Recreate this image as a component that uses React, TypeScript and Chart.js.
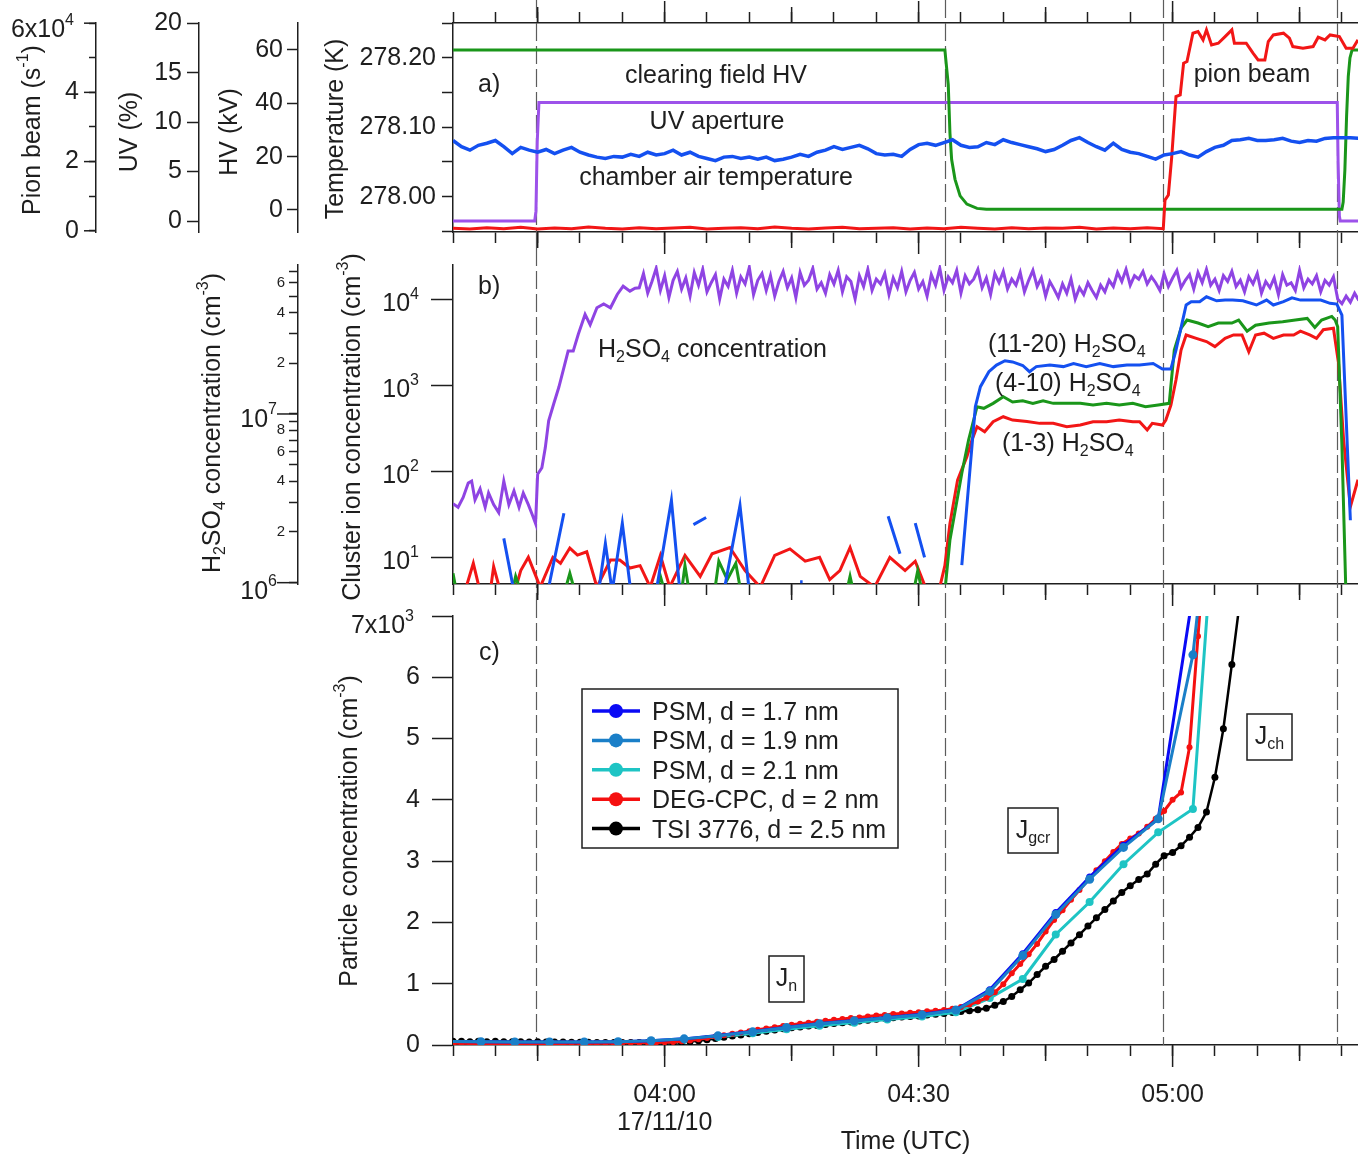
import React, { useEffect, useRef } from 'react';
import { Chart, registerables } from 'chart.js';

Chart.register(...registerables);

const FONT = '"Liberation Sans", Arial, Helvetica, sans-serif';
const INK = '#1e1e1e';
Chart.defaults.font.family = FONT;

// ---------------- shared time axis (minutes relative to 04:00 UTC, 17/11/10) ----------------
const X_MIN = -25;
const X_MAX = 81.9;
const timeTicks = [-25, -20, -15, -10, -5, 0, 5, 10, 15, 20, 25, 30, 35, 40, 45, 50, 55, 60, 65, 70, 75, 80];
const timeTickLabels: Record<number, string[]> = { 0: ['04:00', '17/11/10'], 30: ['04:30'], 60: ['05:00'] };
const eventTimes = [-15.2, 33.1, 58.9, 79.4];

// ---------------- panel a ----------------
const hvTime = [-25, 33.1, 33.5, 33.7, 33.9, 34.3, 34.9, 35.7, 36.9, 38.0, 80.0, 80.15, 80.35, 80.55, 80.75, 80.95, 81.2, 82];
const hvValues = [60, 60, 47, 28.8, 18.9, 11.5, 5.3, 2.2, 0.6, 0.3, 0.3, 3, 15, 35, 50, 57, 60, 60];

const uvTime = [-25, -15.35, -15.2, -15.05, -14.85, 79.45, 79.55, 79.7, 79.8, 82];
const uvValues = [0, 0, 1, 8, 12, 12, 6, 0.5, 0, 0];

const pionTime = [-25, -23, -21, -19, -17, -15, -13, -11, -9, -7, -5, -3, -1, 1, 3, 5, 7, 9, 11, 13, 15, 17, 19, 21, 23, 25, 27, 29, 31, 33, 35, 37, 39, 41, 43, 45, 47, 49, 51, 53, 55, 57, 58.9,
  59.1, 59.5, 59.9, 60.4, 60.9, 61.3, 61.7, 62.4, 63.0, 63.6, 64.0, 64.6, 65.4, 66.2, 67.0, 67.3, 68.7, 69.5, 70.1, 70.9, 71.3, 71.9, 73.1, 73.8, 74.2, 75.4, 76.6, 77.2, 78.0, 78.6, 79.7, 80.5, 81.3, 81.9];
const pionValues = [700, 500, 900, 600, 1000, 500, 800, 600, 1100, 700, 500, 900, 600, 800, 1000, 500, 700, 900, 600, 1100, 700, 500, 800, 1000, 600, 700, 900, 500, 800, 600, 1000, 700, 500, 900, 600, 800, 700, 1000, 500, 800, 600, 900, 600,
  8880, 10330, 21400, 38770, 39260, 48430, 48900, 57100, 57570, 55170, 58060, 53720, 54210, 56130, 58060, 54210, 54210, 51320, 49390, 49390, 54690, 56610, 57100, 55650, 53240, 52760, 53240, 55940, 55170, 56610, 56130, 52760, 52760, 55170];

// chamber air temperature, one value per minute from -25 min
const tempStart = -25;
const tempValues = [278.081, 278.072, 278.067, 278.074, 278.077, 278.081, 278.072, 278.062, 278.071, 278.067,
  278.064, 278.068, 278.062, 278.067, 278.071, 278.064, 278.060, 278.057, 278.055, 278.058,
  278.057, 278.061, 278.058, 278.064, 278.060, 278.062, 278.067, 278.060, 278.064, 278.058,
  278.055, 278.052, 278.057, 278.058, 278.055, 278.057, 278.054, 278.057, 278.052, 278.054,
  278.057, 278.061, 278.058, 278.064, 278.067, 278.072, 278.068, 278.071, 278.074, 278.069,
  278.062, 278.060, 278.061, 278.058, 278.068, 278.075, 278.077, 278.074, 278.078, 278.082,
  278.074, 278.071, 278.072, 278.078, 278.075, 278.082, 278.078, 278.075, 278.072, 278.069,
  278.065, 278.068, 278.074, 278.081, 278.085, 278.078, 278.072, 278.067, 278.077, 278.068,
  278.064, 278.062, 278.058, 278.054, 278.060, 278.062, 278.065, 278.060, 278.057, 278.065,
  278.071, 278.074, 278.081, 278.082, 278.084, 278.081, 278.081, 278.082, 278.084, 278.080,
  278.078, 278.081, 278.080, 278.084, 278.085, 278.085, 278.085, 278.084];

// ---------------- panel b ----------------
const h2so4RiseTime = [-25.0, -24.4, -23.8, -23.2, -22.8, -22.4, -21.8, -21.2, -20.8, -20.2, -19.6, -19.0, -18.4, -17.8, -17.2, -16.7, -16.1, -15.6, -15.25, -15.0,
  -14.5, -14.1, -13.7, -13.1, -12.5, -11.9, -11.4, -10.8, -10.2, -9.4, -8.8, -8.0, -7.2, -6.4, -5.6, -4.9, -4.1, -3.5];
const h2so4RiseE6 = [2.94, 2.8, 3.2, 3.9, 4.0, 3.1, 3.6, 2.8, 3.4, 2.9, 2.6, 4.0, 2.9, 3.5, 2.8, 3.4, 2.9, 2.5, 2.24, 4.4,
  4.8, 6.3, 9.1, 11.5, 14.4, 18.8, 23.6, 23.6, 29.7, 38.9, 33.8, 42.6, 44.9, 42.6, 51.1, 57.2, 53.5, 55.7];
// plateau, every 0.5 min from -3 min, in units of 1e7 cm^-3
const h2so4PlateauStart = -3;
const h2so4PlateauE7 = [5.6, 6.8, 5.2, 6.1, 7.3, 5.4, 6.6, 4.9, 6.2, 7.0,
  5.5, 6.4, 5.0, 6.9, 5.8, 7.2, 5.3, 6.0, 6.7, 4.8,
  6.3, 5.7, 7.1, 5.2, 6.5, 5.9, 7.4, 5.1, 6.2, 6.8,
  5.4, 6.6, 5.0, 6.1, 7.0, 5.6, 6.4, 4.9, 6.9, 5.8,
  6.2, 7.3, 5.5, 6.0, 5.2, 6.7, 5.9, 7.1, 5.3, 6.5,
  6.1, 4.8, 6.6, 5.7, 7.2, 5.4, 6.3, 5.9, 6.8, 5.1,
  6.4, 5.6, 7.0, 5.3, 6.2, 6.9, 5.5, 6.1, 5.0, 6.7,
  5.8, 7.3, 5.4, 6.5, 6.0, 7.1, 5.2, 6.6, 5.9, 6.3,
  7.2, 5.6, 6.4, 5.1, 6.8, 6.0, 7.0, 5.5, 6.3, 5.8,
  6.9, 5.3, 6.2, 7.1, 5.7, 6.4, 5.0, 6.1, 5.5, 4.9,
  5.9, 5.2, 6.3, 4.8, 5.6, 5.1, 6.0, 5.4, 4.9, 5.8,
  5.3, 6.2, 5.7, 6.9, 6.1, 7.2, 5.8, 6.6, 6.3, 7.0,
  5.9, 6.5, 6.0, 5.4, 6.8, 5.7, 6.4, 7.1, 5.6, 6.2,
  6.7, 5.5, 6.9, 6.0, 7.2, 5.8, 6.3, 5.4, 6.6, 6.1,
  7.0, 5.7, 6.2, 5.3, 6.5, 5.9, 6.8, 5.2, 6.1, 5.6,
  6.4, 5.1, 6.7, 5.8, 6.0, 5.4, 7.1, 5.6, 6.3, 5.9,
  6.6, 5.3, 6.2, 5.8, 6.5, 4.8, 4.5, 5.0, 4.6, 5.2,
  4.7];

const clRedTime = [-25, -23.6, -22.6, -21.8, -20.6, -20.2, -19.4, -17.7, -17.0, -16.1, -15.2, -14.7, -13.2, -12.3, -11.2, -10.3, -9.2, -8.0, -6.4, -5.3,
  -4.1, -2.9, -1.7, -0.5, 0.6, 2.4, 4.2, 5.6, 7.7, 9.5, 11.3, 13.0, 14.8, 16.6, 18.3, 19.5, 20.7, 21.9, 23.1, 24.8,
  26.6, 28.4, 29.6, 30.8, 32.5, 33.1, 33.7, 34.6, 35.7, 36.3, 36.9, 37.8, 38.8, 40.0, 41.1, 42.8, 44.3, 45.9, 47.5, 49.1,
  50.6, 52.2, 53.7, 55.3, 56.1, 57.0, 57.6, 58.8, 59.2, 59.8, 60.4, 61.0, 61.6, 62.8, 64.0, 65.0, 66.2, 67.2, 68.2, 69.0,
  69.8, 70.8, 71.9, 73.1, 74.3, 75.1, 76.2, 77.0, 77.8, 79.0, 79.6, 80.2, 81.0, 81.9];
const clRedValues = [4, 4, 8.5, 4, 4, 7.8, 4, 4, 7, 10, 6, 4.5, 10, 8.5, 12.8, 10.6, 11.6, 4.5, 9.3, 9.3,
  7.5, 8, 4.5, 10.5, 4.5, 10.5, 6, 11, 13, 7, 4.5, 10.5, 12.5, 9, 10, 5.5, 7, 13, 6, 4.5,
  10, 7, 9, 4.5, 4.5, 8, 24.8, 79, 148, 231, 330, 289, 377, 431, 394, 380, 361, 361, 330, 345,
  377, 377, 394, 377, 377, 302, 361, 345, 394, 590, 1150, 2570, 3850, 3520, 3230, 2820, 3520, 3850, 3850, 2450,
  3850, 4040, 3520, 3850, 3850, 4260, 3850, 3520, 4430, 4610, 1800, 231, 38.8, 80];

const clGreenTime = [-25, -24.6, -18.0, -17.6, -17.0, -11.8, -11.2, -10.6, -1.0, -0.5, 0.0, 2.0, 2.4, 2.9, 5.9, 6.4, 7.4, 8.4, 9.0, 21.5,
  21.9, 22.3, 29.4, 29.9, 30.4, 33.1, 33.7, 35.1, 35.9, 36.9, 37.7, 38.8, 40.0, 41.1, 42.3, 43.5, 44.7, 45.9, 47.5, 49.1,
  50.6, 52.2, 53.7, 55.3, 56.8, 58.3, 59.6, 60.2, 61.0, 61.7, 63.0, 64.2, 65.4, 67.0, 67.8, 68.8, 69.8, 71.4, 73.0, 74.5,
  75.9, 76.8, 77.6, 78.8, 79.2, 79.5, 80.0, 80.5, 81.9];
const clGreenValues = [6.5, 4, 4, 6, 4, 4, 6.5, 4, 4, 6, 4, 4, 8, 4, 4, 9, 5.5, 8.5, 4, 4,
  6, 4, 4, 7, 4, 4, 15.9, 95, 231, 564, 540, 617, 737, 640, 660, 617, 660, 617, 617, 617,
  590, 617, 590, 617, 564, 590, 617, 2570, 4610, 5740, 5300, 4800, 5300, 5300, 5740, 4260, 5000, 5300, 5500, 5740,
  6000, 4700, 5740, 6330, 5740, 4800, 200, 3, 3];

const clBlueTime = [-19.0, -17.8, -17.7, -13.8, -11.9, -11.8, -7.8, -7.0, -6.2, -5.0, -4.0, -3.9, -1.0, 0.8, 1.8, 1.9, 3.4, 4.9, 5.0, 7.0,
  8.9, 10.0, 10.1, 16.0, 16.3, 16.4, 26.4, 27.8, 27.9, 29.6, 30.7, 30.8, 35.1, 36.7, 37.3, 38.3, 39.2, 40.2, 41.1, 42.3,
  43.1, 43.9, 45.5, 47.1, 48.3, 49.8, 51.4, 53.0, 54.6, 56.1, 57.7, 58.8, 59.8, 60.4, 61.6, 62.2, 63.2, 64.0, 65.2, 66.2,
  67.1, 68.3, 69.9, 71.1, 71.9, 73.1, 74.1, 75.1, 76.3, 77.5, 78.6, 79.4, 80.0, 81.0];
const clBlueValues: (number | null)[] = [16.6, 4, null, 4, 32.5, null, 4, 14.5, 4, 24.8, 4, null, 4, 46, 4, null, 24, 29, null, 4,
  40, 4, null, 5.2, 5.2, null, 30, 11, null, 25, 10, null, 8.1, 564, 964, 1440, 1720, 1930, 1870, 1700,
  1440, 1650, 1720, 1650, 1790, 1650, 1790, 1650, 1720, 1720, 1790, 1550, 1550, 2570, 8590, 9380, 9380, 10700, 9600, 9800,
  9800, 9600, 8590, 9800, 8590, 9380, 10400, 9800, 9800, 9800, 8980, 8800, 6560, 27];

// ---------------- panel c ----------------
const particleLabels = ['PSM, d = 1.7 nm', 'PSM, d = 1.9 nm', 'PSM, d = 2.1 nm', 'DEG-CPC, d = 2 nm', 'TSI 3776, d = 2.5 nm'];
const psmTime = [-25.7, -21.7, -17.7, -13.6, -9.5, -5.5, -1.6, 2.3, 6.3, 10.4, 14.4, 18.3, 22.4, 26.3, 30.4, 34.4, 38.4, 42.3, 46.2, 50.2, 54.2, 58.3, 62.4, 66.4];
const psm17Values = [60, 55, 50, 50, 50, 55, 70, 100, 155, 220, 290, 350, 400, 450, 500, 575, 900, 1490, 2160, 2740, 3260, 3690, 7360, 11000];
const psm19Values = [60, 55, 50, 50, 50, 55, 70, 100, 150, 215, 285, 345, 395, 445, 495, 570, 874, 1459, 2131, 2705, 3224, 3690, 6366, 11400];
const psm21Values = [55, 50, 45, 45, 45, 50, 60, 85, 130, 190, 255, 315, 365, 415, 465, 535, 765, 1077, 1803, 2333, 2950, 3470, 3852, 11470];
const degStart = -25; // one sample per minute
const degValues = [30, 30, 25, 30, 25, 30, 25, 25, 30, 25, 25, 30, 25, 25, 30, 30, 25, 30, 30, 30, 35, 35, 35, 40, 40,
  45, 50, 60, 75, 95, 115, 140, 160, 185, 205, 225, 250, 270, 290, 310, 330, 345, 365, 380, 395,
  410, 425, 440, 450, 465, 480, 490, 505, 515, 525, 535, 550, 560, 570, 590, 620, 660, 710, 770, 860,
  990, 1170, 1320, 1480, 1650, 1850, 2040, 2200, 2370, 2530, 2690, 2850, 3000, 3150, 3280, 3370, 3450, 3560, 3690, 3820,
  4000, 4120, 4860, 6670, 8500];
const tsiStart = -25; // one sample per minute
const tsiValues = [60, 60, 55, 60, 55, 60, 55, 55, 55, 50, 55, 50, 50, 50, 45, 45, 45, 40, 40, 40, 40, 40, 40, 40, 40,
  40, 40, 45, 55, 70, 85, 105, 125, 145, 165, 185, 205, 225, 245, 265, 280, 295, 310, 320, 335,
  350, 365, 375, 390, 405, 420, 435, 445, 455, 465, 475, 490, 500, 515, 530, 545, 560, 575, 600, 650,
  710, 790, 900, 1010, 1150, 1285, 1395, 1530, 1665, 1800, 1940, 2075, 2210, 2350, 2490, 2600, 2700, 2790, 2950, 3090,
  3140, 3250, 3390, 3550, 3800, 4370, 5160, 6210, 7300];

// ---------------- helpers ----------------
const pts = (xs: number[], ys: (number | null)[], k = 1) =>
  xs.map((x, i) => ({ x, y: ys[i] == null ? null : (ys[i] as number) * k }));
const seq = (start: number, step: number, ys: number[], k = 1) => ys.map((y, i) => ({ x: start + step * i, y: y * k }));

type Seg = [string, number]; // 0 normal, 1 superscript, 2 subscript
function drawRich(ctx: CanvasRenderingContext2D, segs: Seg[], x: number, y: number, size: number,
  align: 'left' | 'center' | 'right', rotate = false, color = INK) {
  const small = Math.round(size * 0.62);
  ctx.save();
  ctx.translate(x, y);
  if (rotate) ctx.rotate(-Math.PI / 2);
  ctx.fillStyle = color;
  ctx.textBaseline = 'alphabetic';
  ctx.textAlign = 'left';
  let total = 0;
  const widths = segs.map(([t, k]) => {
    ctx.font = `${k ? small : size}px ${FONT}`;
    const w = ctx.measureText(t).width;
    total += w;
    return w;
  });
  let cx = align === 'left' ? 0 : align === 'center' ? -total / 2 : -total;
  const base = size * 0.36;
  segs.forEach(([t, k], i) => {
    ctx.font = `${k ? small : size}px ${FONT}`;
    const dy = k === 1 ? -size * 0.5 : k === 2 ? size * 0.2 : 0;
    ctx.fillText(t, cx, base + dy);
    cx += widths[i];
  });
  ctx.restore();
}

function hline(ctx: CanvasRenderingContext2D, x1: number, y1: number, x2: number, y2: number) {
  ctx.beginPath();
  ctx.moveTo(x1, y1);
  ctx.lineTo(x2, y2);
  ctx.stroke();
}

function extendTimeTicks(ctx: CanvasRenderingContext2D, scale: any, dir: 1 | -1) {
  const y0 = dir === 1 ? scale.top : scale.bottom;
  ctx.save();
  ctx.strokeStyle = INK;
  ctx.lineWidth = 1.5;
  for (const t of timeTicks) {
    const len = t % 30 === 0 ? 22 : t % 15 === 0 ? 16 : 0;
    if (!len) continue;
    const x = scale.getPixelForValue(t);
    hline(ctx, x, y0, x, y0 + dir * len);
  }
  ctx.restore();
}

function drawEvents(chart: any, y0: number, y1: number) {
  const ctx = chart.ctx as CanvasRenderingContext2D;
  const xs = chart.scales.x;
  ctx.save();
  ctx.strokeStyle = '#5c5c5c';
  ctx.lineWidth = 1.2;
  ctx.setLineDash([18, 5]);
  for (const t of eventTimes) {
    const x = Math.round(xs.getPixelForValue(t)) + 0.5;
    hline(ctx, x, y0, x, y1);
  }
  ctx.restore();
}

function timeAxis(position: 'top' | 'bottom', height: number, labels: boolean): any {
  return {
    type: 'linear', position, min: X_MIN, max: X_MAX,
    afterBuildTicks: (s: any) => { s.ticks = timeTicks.map((v) => ({ value: v })); },
    afterFit: (s: any) => { s.height = height; s.paddingLeft = 0; s.paddingRight = 0; },
    ticks: {
      display: labels, autoSkip: false, maxRotation: 0, minRotation: 0, padding: 25, color: INK,
      font: { family: FONT, size: 25, lineHeight: 1.12 },
      callback: (v: number) => timeTickLabels[v] ?? '',
    },
    grid: { drawOnChartArea: false, drawTicks: true, tickLength: 11, tickWidth: 1.5, tickColor: INK },
    border: { display: true, color: INK, width: 1.5 },
    title: labels
      ? { display: true, text: 'Time (UTC)', color: INK, font: { family: FONT, size: 25 }, padding: { top: 0, bottom: 0 } }
      : { display: false },
  };
}

function yAxis(type: string, weight: number, width: number, min: number, max: number, ticks: number[],
  tickLength: number, padding: number, callback: (v: number) => string, fontSize = 25): any {
  return {
    type, position: 'left', weight, min, max,
    afterBuildTicks: (s: any) => { s.ticks = ticks.map((v) => ({ value: v })); },
    afterFit: (s: any) => { s.width = width; s.paddingTop = 0; s.paddingBottom = 0; },
    ticks: { autoSkip: false, padding, color: INK, font: { family: FONT, size: fontSize }, callback },
    grid: { drawOnChartArea: false, drawTicks: true, tickLength, tickWidth: 1.5, tickColor: INK },
    border: { display: true, color: INK, width: 1.5 },
  };
}

function line(label: string, data: any[], color: string, yAxisID: string, width: number, order: number, extra: any = {}) {
  return {
    label, data, borderColor: color, backgroundColor: color, borderWidth: width, pointRadius: 0,
    tension: 0, yAxisID, xAxisID: 'x', order, spanGaps: false, ...extra,
  };
}

const baseOptions = (top: number): any => ({
  responsive: false,
  animation: false,
  events: [],
  layout: { autoPadding: false, padding: { top, left: 0, right: 0, bottom: 0 } },
  plugins: { legend: { display: false }, tooltip: { enabled: false }, title: { display: false } },
});

const TOP_A = 0;
const TOP_B = 240;
const TOP_C = 590;

// ---------------- chart a ----------------
function configA(): any {
  const tempTicks = [277.95, 278.0, 278.05, 278.1, 278.15, 278.2, 278.25];
  const overlay = {
    id: 'overlayA',
    beforeDatasetsDraw(chart: any) { drawEvents(chart, 0 - TOP_A, 248 - TOP_A); },
    afterDraw(chart: any) {
      const ctx = chart.ctx as CanvasRenderingContext2D;
      extendTimeTicks(ctx, chart.scales.x, 1);
      extendTimeTicks(ctx, chart.scales.xTop, -1);
      const p = chart.scales.pion;
      ctx.save();
      ctx.strokeStyle = INK;
      ctx.lineWidth = 1.5;
      for (const v of [0, 20000, 40000, 60000]) {
        const y = p.getPixelForValue(v);
        hline(ctx, p.right - 12, y, p.right, y);
      }
      ctx.restore();
      drawRich(ctx, [['6x10', 0], ['4', 1]], 74, p.getPixelForValue(60000) + 5, 25, 'right');
      drawRich(ctx, [['Pion beam (s', 0], ['-1', 1], [')', 0]], 31, 130 - TOP_A, 25, 'center', true);
      drawRich(ctx, [['UV (%)', 0]], 128, 132 - TOP_A, 25, 'center', true);
      drawRich(ctx, [['HV (kV)', 0]], 228, 132 - TOP_A, 25, 'center', true);
      drawRich(ctx, [['Temperature (K)', 0]], 334, 129 - TOP_A, 25, 'center', true);
      drawRich(ctx, [['a)', 0]], 478, 83 - TOP_A, 25, 'left');
      drawRich(ctx, [['clearing field HV', 0]], 716, 73.5 - TOP_A, 25, 'center');
      drawRich(ctx, [['UV aperture', 0]], 717, 119.5 - TOP_A, 25, 'center');
      drawRich(ctx, [['chamber air temperature', 0]], 716, 175.5 - TOP_A, 25, 'center');
      drawRich(ctx, [['pion beam', 0]], 1252, 72.5 - TOP_A, 25, 'center');
    },
  };
  return {
    type: 'line',
    data: {
      datasets: [
        line('chamber air temperature', seq(tempStart, 1, tempValues), '#1450f0', 'temp', 3.5, 0),
        line('pion beam', pts(pionTime, pionValues), '#f21616', 'pion', 3, 1),
        line('clearing field HV', pts(hvTime, hvValues), '#1a961a', 'hv', 3, 2),
        line('UV aperture', pts(uvTime, uvValues), '#9d52ea', 'uv', 3, 3),
      ],
    },
    options: {
      ...baseOptions(0),
      scales: {
        x: timeAxis('bottom', 26, false),
        xTop: timeAxis('top', 23, false),
        temp: yAxis('linear', 1, 155, 277.949, 278.2504, tempTicks, 11, 6,
          (v: number) => (Math.round(v * 100) % 10 === 0 ? v.toFixed(2) : '')),
        hv: yAxis('linear', 2, 99, -8.25, 70.1, [0, 20, 40, 60], 11, 4, (v: number) => String(v)),
        uv: yAxis('linear', 3, 103, -1.11, 20.03, [0, 5, 10, 15, 20], 12, 5, (v: number) => String(v)),
        pion: yAxis('linear', 4, 96, -350, 60050, [0, 10000, 20000, 30000, 40000, 50000, 60000], 7, 10,
          (v: number) => (v === 0 ? '0' : v === 20000 ? '2' : v === 40000 ? '4' : '')),
      },
    },
    plugins: [overlay],
  };
}

// ---------------- chart b ----------------
function configB(): any {
  const h2Ticks = [1e6, 2e6, 3e6, 4e6, 5e6, 6e6, 7e6, 8e6, 9e6, 1e7, 2e7, 3e7, 4e7, 5e7, 6e7, 7e7];
  const clTicks = [10, 100, 1000, 10000];
  const overlay = {
    id: 'overlayB',
    beforeDatasetsDraw(chart: any) { drawEvents(chart, 248 - TOP_B, 600 - TOP_B); },
    afterDraw(chart: any) {
      const ctx = chart.ctx as CanvasRenderingContext2D;
      extendTimeTicks(ctx, chart.scales.x, 1);
      const h = chart.scales.h2;
      const c = chart.scales.cl;
      ctx.save();
      ctx.strokeStyle = INK;
      ctx.lineWidth = 1.5;
      for (const v of [1e6, 1e7]) {
        const y = h.getPixelForValue(v);
        hline(ctx, h.right - 21, y, h.right, y);
      }
      ctx.restore();
      drawRich(ctx, [['10', 0], ['6', 1]], 277, h.getPixelForValue(1e6) + 7, 25, 'right');
      drawRich(ctx, [['10', 0], ['7', 1]], 277, h.getPixelForValue(1e7) + 4, 25, 'right');
      clTicks.forEach((v, i) => {
        drawRich(ctx, [['10', 0], [String(i + 1), 1]], 419, c.getPixelForValue(v) + 3, 25, 'right');
      });
      drawRich(ctx, [['H', 0], ['2', 2], ['SO', 0], ['4', 2], [' concentration (cm', 0], ['-3', 1], [')', 0]],
        211, 423 - TOP_B, 25, 'center', true);
      drawRich(ctx, [['Cluster ion concentration (cm', 0], ['-3', 1], [')', 0]], 351, 427 - TOP_B, 25, 'center', true);
      drawRich(ctx, [['b)', 0]], 478, 285 - TOP_B, 25, 'left');
      drawRich(ctx, [['H', 0], ['2', 2], ['SO', 0], ['4', 2], [' concentration', 0]], 598, 347.5 - TOP_B, 25, 'left');
      drawRich(ctx, [['(11-20) H', 0], ['2', 2], ['SO', 0], ['4', 2]], 988, 342.5 - TOP_B, 25, 'left');
      drawRich(ctx, [['(4-10) H', 0], ['2', 2], ['SO', 0], ['4', 2]], 995, 381.7 - TOP_B, 25, 'left');
      drawRich(ctx, [['(1-3) H', 0], ['2', 2], ['SO', 0], ['4', 2]], 1002, 441.7 - TOP_B, 25, 'left');
    },
  };
  const h2so4Data = [...pts(h2so4RiseTime, h2so4RiseE6, 1e6), ...seq(h2so4PlateauStart, 0.5, h2so4PlateauE7, 1e7)];
  return {
    type: 'line',
    data: {
      datasets: [
        line('(11-20) H2SO4', pts(clBlueTime, clBlueValues), '#1450f0', 'cl', 3, 0),
        line('(4-10) H2SO4', pts(clGreenTime, clGreenValues), '#1a961a', 'cl', 3, 1),
        line('(1-3) H2SO4', pts(clRedTime, clRedValues), '#f21616', 'cl', 3, 2),
        line('H2SO4 concentration', h2so4Data, '#8f44e3', 'h2', 3, 3),
      ],
    },
    options: {
      ...baseOptions(25),
      scales: {
        x: timeAxis('bottom', 28, false),
        cl: yAxis('logarithmic', 1, 155, 4.89, 25070, clTicks, 22, 12, () => ''),
        h2: yAxis('logarithmic', 2, 298, 9.82e5, 7.64e7, h2Ticks, 9, 4, (v: number) => {
          const m = Math.round(v / Math.pow(10, Math.floor(Math.log10(v) + 1e-9)));
          return m === 2 || m === 4 || m === 6 || m === 8 ? String(m) : '';
        }, 15),
      },
    },
    plugins: [overlay],
  };
}

// ---------------- chart c ----------------
function configC(): any {
  const boxes: { segs: Seg[]; x: number; y: number; w: number; h: number }[] = [
    { segs: [['J', 0], ['n', 2]], x: 769, y: 956, w: 35, h: 46 },
    { segs: [['J', 0], ['gcr', 2]], x: 1008, y: 808, w: 50, h: 45 },
    { segs: [['J', 0], ['ch', 2]], x: 1247, y: 714, w: 45, h: 46 },
  ];
  const overlay = {
    id: 'overlayC',
    beforeDatasetsDraw(chart: any) { drawEvents(chart, 600 - TOP_C, chart.chartArea.bottom); },
    afterDraw(chart: any) {
      const ctx = chart.ctx as CanvasRenderingContext2D;
      extendTimeTicks(ctx, chart.scales.x, 1);
      const p = chart.scales.pc;
      drawRich(ctx, [['7x10', 0], ['3', 1]], 414, p.getPixelForValue(7000) + 8, 25, 'right');
      drawRich(ctx, [['Particle concentration (cm', 0], ['-3', 1], [')', 0]], 348, 831 - TOP_C, 25, 'center', true);
      drawRich(ctx, [['c)', 0]], 479, 651 - TOP_C, 25, 'left');
      // boxed labels
      ctx.save();
      for (const b of boxes) {
        ctx.fillStyle = '#fff';
        ctx.fillRect(b.x, b.y - TOP_C, b.w, b.h);
        ctx.strokeStyle = INK;
        ctx.lineWidth = 1.5;
        ctx.strokeRect(b.x, b.y - TOP_C, b.w, b.h);
        drawRich(ctx, b.segs, b.x + b.w / 2, b.y - TOP_C + b.h / 2 - 2, 25, 'center');
      }
      ctx.restore();
      // legend
      const lx = 582, ly = 689 - TOP_C, lw = 316, lh = 159;
      ctx.save();
      ctx.fillStyle = '#fff';
      ctx.fillRect(lx, ly, lw, lh);
      ctx.strokeStyle = INK;
      ctx.lineWidth = 1.5;
      ctx.strokeRect(lx, ly, lw, lh);
      particleLabels.forEach((lab, i) => {
        const ds = chart.data.datasets.find((d: any) => d.label === lab);
        const cy = 711 - TOP_C + i * 29.4;
        ctx.strokeStyle = ds.borderColor;
        ctx.lineWidth = 3.5;
        hline(ctx, 592, cy, 640, cy);
        ctx.fillStyle = ds.borderColor;
        ctx.beginPath();
        ctx.arc(616, cy, 7, 0, Math.PI * 2);
        ctx.fill();
        drawRich(ctx, [[lab, 0]], 652, cy, 25, 'left');
      });
      ctx.restore();
    },
  };
  const mk = (label: string, data: any[], color: string, width: number, radius: number, order: number) =>
    line(label, data, color, 'pc', width, order, { pointRadius: radius, pointBorderWidth: 0, pointBackgroundColor: color });
  return {
    type: 'line',
    data: {
      datasets: [
        mk(particleLabels[1], pts(psmTime, psm19Values), '#1a7fc8', 3, 4.5, 0),
        mk(particleLabels[0], pts(psmTime, psm17Values), '#0a0af5', 3, 3.5, 1),
        mk(particleLabels[3], seq(degStart, 1, degValues), '#f51010', 3, 3, 2),
        mk(particleLabels[2], pts(psmTime, psm21Values), '#1ec4c4', 3, 4, 3),
        mk(particleLabels[4], seq(tsiStart, 1, tsiValues), '#000000', 2.5, 3.5, 4),
      ],
    },
    options: {
      ...baseOptions(26),
      scales: {
        x: timeAxis('bottom', 112, true),
        pc: yAxis('linear', 1, 453, 0, 7000, [0, 1000, 2000, 3000, 4000, 5000, 6000, 7000], 21, 12,
          (v: number) => (v === 7000 ? '' : String(v / 1000))),
      },
    },
    plugins: [overlay],
  };
}

export default function App() {
  const refA = useRef<HTMLCanvasElement>(null);
  const refB = useRef<HTMLCanvasElement>(null);
  const refC = useRef<HTMLCanvasElement>(null);
  useEffect(() => {
    const charts = [
      new Chart(refA.current as HTMLCanvasElement, configA()),
      new Chart(refB.current as HTMLCanvasElement, configB()),
      new Chart(refC.current as HTMLCanvasElement, configC()),
    ];
    return () => charts.forEach((c) => c.destroy());
  }, []);
  const cs = (top: number): React.CSSProperties => ({ position: 'absolute', left: 0, top });
  return (
    <div style={{ position: 'absolute', left: 0, top: 0, width: 1358, height: 1157, background: '#fff', overflow: 'hidden' }}>
      <canvas ref={refA} width={1358} height={258} style={cs(TOP_A)} />
      <canvas ref={refB} width={1358} height={372} style={cs(TOP_B)} />
      <canvas ref={refC} width={1358} height={567} style={cs(TOP_C)} />
    </div>
  );
}
